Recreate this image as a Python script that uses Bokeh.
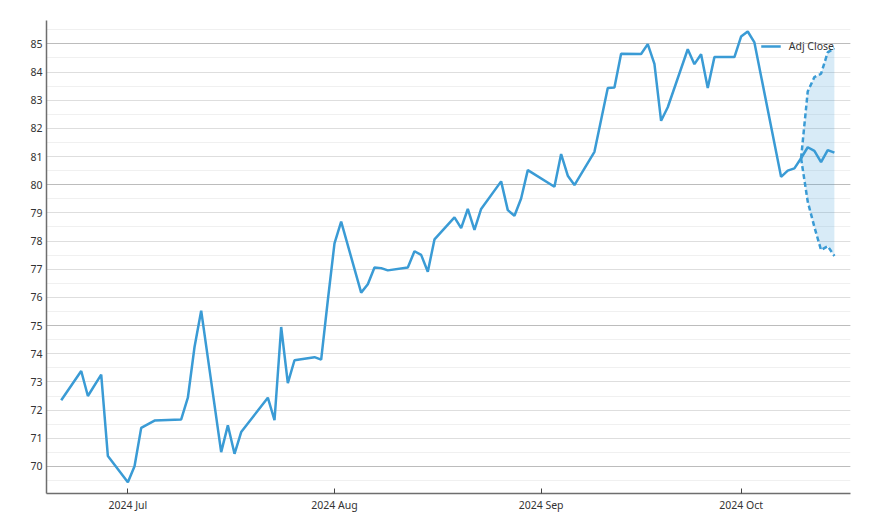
import pandas as pd
from bokeh.plotting import figure
from bokeh.models import (ColumnDataSource, Range1d, SingleIntervalTicker, Grid,
                          DatetimeTickFormatter, MonthsTicker)
from bokeh.embed import file_html
from bokeh.resources import INLINE

dates = ["2024-06-21", "2024-06-24", "2024-06-25", "2024-06-27", "2024-06-28",
         "2024-07-01", "2024-07-02", "2024-07-03", "2024-07-05", "2024-07-09",
         "2024-07-10", "2024-07-11", "2024-07-12", "2024-07-15", "2024-07-16",
         "2024-07-17", "2024-07-18", "2024-07-22", "2024-07-23", "2024-07-24",
         "2024-07-25", "2024-07-26", "2024-07-29", "2024-07-30", "2024-07-31",
         "2024-08-01", "2024-08-02", "2024-08-05", "2024-08-06", "2024-08-07",
         "2024-08-08", "2024-08-09", "2024-08-12", "2024-08-13", "2024-08-14",
         "2024-08-15", "2024-08-16", "2024-08-19", "2024-08-20", "2024-08-21",
         "2024-08-22", "2024-08-23", "2024-08-26", "2024-08-27", "2024-08-28",
         "2024-08-29", "2024-08-30", "2024-09-03", "2024-09-04", "2024-09-05",
         "2024-09-06", "2024-09-09", "2024-09-11", "2024-09-12", "2024-09-13",
         "2024-09-16", "2024-09-17", "2024-09-18", "2024-09-19", "2024-09-20",
         "2024-09-23", "2024-09-24", "2024-09-25", "2024-09-26", "2024-09-27",
         "2024-09-30", "2024-10-01", "2024-10-02", "2024-10-03", "2024-10-07",
         "2024-10-08", "2024-10-09", "2024-10-10"]
adj_close = [72.35, 73.39, 72.50, 73.26, 70.37,
             69.44, 70.01, 71.37, 71.63, 71.67,
             72.44, 74.24, 75.53, 70.51, 71.46,
             70.45, 71.22, 72.44, 71.64, 74.95,
             72.96, 73.77, 73.88, 73.79, 75.90,
             77.92, 78.69, 76.17, 76.47, 77.06,
             77.04, 76.96, 77.06, 77.64, 77.51,
             76.91, 78.06, 78.84, 78.46, 79.14,
             78.40, 79.14, 80.12, 79.10, 78.90,
             79.51, 80.52, 79.93, 81.09, 80.32,
             79.99, 81.17, 83.43, 83.45, 84.65,
             84.64, 84.99, 84.29, 82.27, 82.75,
             84.81, 84.28, 84.63, 83.43, 84.53,
             84.53, 85.26, 85.44, 85.05, 80.28,
             80.50, 80.58, 80.94]

fc_dates = ["2024-10-11", "2024-10-12", "2024-10-13", "2024-10-14", "2024-10-15"]
fc_mean = [81.33, 81.20, 80.80, 81.23, 81.14]
fc_lower = [79.40, 78.50, 77.68, 77.82, 77.47]
fc_upper = [83.31, 83.82, 83.94, 84.70, 84.85]

y_ticks_interval = 1

BLUE = "#3a9bd5"

hist = ColumnDataSource(dict(x=pd.to_datetime(dates), y=adj_close))
fx = pd.to_datetime([dates[-1]] + fc_dates)
fc = ColumnDataSource(dict(
    x=fx,
    mean=[adj_close[-1]] + fc_mean,
    lower=[adj_close[-1]] + fc_lower,
    upper=[adj_close[-1]] + fc_upper,
))

p = figure(width=862, height=523, x_axis_type="datetime",
           output_backend="svg", toolbar_location=None,
           x_range=Range1d(pd.Timestamp("2024-06-18 19:00"), pd.Timestamp("2024-10-17 10:00")),
           y_range=Range1d(69.04, 85.83),
           min_border_left=46, min_border_right=12, min_border_top=20, min_border_bottom=30)
p.outline_line_color = None
p.background_fill_color = "white"
p.border_fill_color = "white"

# grids
p.xgrid.visible = False
p.ygrid[0].ticker = SingleIntervalTicker(interval=1, num_minor_ticks=2)
p.ygrid[0].grid_line_color = "#dedede"
p.ygrid[0].grid_line_width = 1
p.ygrid[0].minor_grid_line_color = "#f0f0f0"
p.ygrid[0].minor_grid_line_width = 1
g5 = Grid(dimension=1, ticker=SingleIntervalTicker(interval=5),
          grid_line_color="#bcbcbc", grid_line_width=1)
p.add_layout(g5)

# axes
p.yaxis.ticker = SingleIntervalTicker(interval=y_ticks_interval)
p.yaxis.major_tick_out = 0
p.yaxis.major_tick_in = 0
p.yaxis.minor_tick_out = 0
p.yaxis.minor_tick_in = 0
p.yaxis.major_label_standoff = 4
p.xaxis.ticker = MonthsTicker(months=list(range(1, 13)))
p.xaxis.formatter = DatetimeTickFormatter(months="%Y %b", days="%Y %b")
p.xaxis.major_tick_in = 5
p.xaxis.major_tick_out = 0
p.xaxis.minor_tick_in = 0
p.xaxis.minor_tick_out = 0
p.xaxis.major_label_standoff = 4
for ax in (p.xaxis[0], p.yaxis[0]):
    ax.axis_line_color = "#6e6e6e"
    ax.axis_line_width = 1.5
    ax.major_tick_line_color = "#444444"
    ax.major_label_text_font = "Noto Sans"
    ax.major_label_text_font_size = "10.5px"
    ax.major_label_text_color = "#333333"

# band
p.varea(x="x", y1="lower", y2="upper", source=fc, fill_color=BLUE, fill_alpha=0.2)
p.line(x="x", y="upper", source=fc, line_color=BLUE, line_width=2.5, line_dash="5 3")
p.line(x="x", y="lower", source=fc, line_color=BLUE, line_width=2.5, line_dash="5 3")

# main lines
p.line(x="x", y="y", source=hist, line_color=BLUE, line_width=2.5, legend_label="Adj Close")
p.line(x="x", y="mean", source=fc, line_color=BLUE, line_width=2.5)

lg = p.legend[0]
lg.location = "top_right"
lg.border_line_color = None
lg.background_fill_alpha = 0
lg.margin = 16
lg.padding = 0
lg.glyph_width = 20
lg.label_standoff = 8
lg.label_text_font = "Noto Sans"
lg.label_text_font_size = "10.5px"
lg.label_text_color = "#333333"

open("out.html", "w").write(file_html(p, INLINE))
